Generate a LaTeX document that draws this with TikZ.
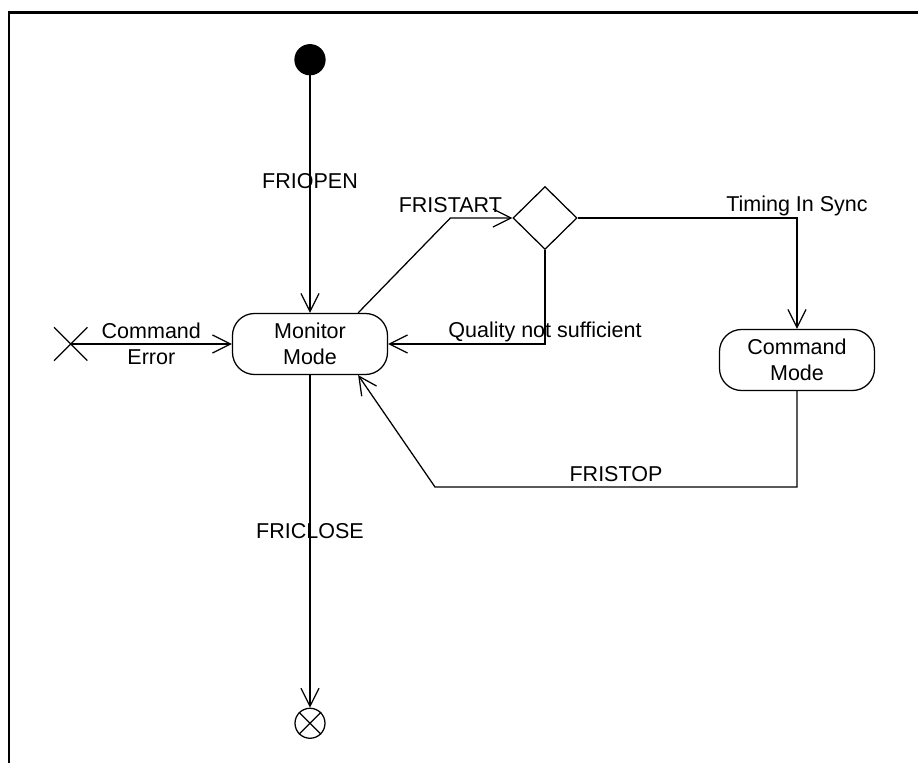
\documentclass[tikz,border=0pt]{standalone}
\usepackage{fontspec}
\setmainfont{Liberation Sans}
\usepackage{tikz}
\usetikzlibrary{shapes,arrows.meta,positioning}

\begin{document}
\begin{tikzpicture}[
    line width=0.9pt,
    font=\fontsize{15.3}{18.5}\selectfont,
    modenode/.style={draw, rounded corners=0.55cm, minimum width=3.875cm, minimum height=1.525cm, align=center, inner sep=2pt},
    pseudonode/.style={draw, circle, minimum size=0.75cm, inner sep=0pt},
    trans/.style={->, >={Straight Barb[length=0.45cm,width=0.45cm]}}
]
\useasboundingbox (0,0) rectangle (22.95,19.075);
\draw[line width=1.8pt] (0.225,0) |- (22.95,18.7625);

\node[modenode] (mon) at (7.75,10.475) {Monitor\\Mode};
\node[modenode] (cmd) at (19.925,10.075) {Command\\Mode};
\node[pseudonode, fill=black] (init) [above=5.9375cm of mon] {};
\node[pseudonode] (fin) [below=8.3125cm of mon] {};
\draw (fin.north west) -- (fin.south east) (fin.north east) -- (fin.south west);
\node[draw, cross out, minimum size=0.8cm, inner sep=0pt] (err) [left=3.6125cm of mon] {};
\node[draw, diamond, minimum width=1.6cm, minimum height=1.575cm, inner sep=0pt] (dec) at (13.625,13.625) {};
\coordinate (stopbend) at (10.875,6.9);

\draw[trans] (init) -- node[pos=0.446] {FRIOPEN} (mon);
\draw[trans] (mon) -- node[pos=0.468] {FRICLOSE} (fin);
\draw[trans] (err.center) -- node[midway, align=center] {Command\\Error} (mon.west);
\draw[trans] ([xshift=-0.75cm]mon.north east) -- node[pos=1, above] {FRISTART} ([xshift=-1.55cm]dec.west) -- (dec.west);
\draw[trans] (dec.east) -| node[pos=0.5, above, inner sep=1pt] {Timing In Sync} (cmd.north);
\draw[trans] (dec.south) |- node[pos=0.5, above, inner sep=1pt] {Quality not sufficient} (mon.east);
\draw[trans] (cmd.south) |- node[pos=0.75, above] {FRISTOP} (stopbend) -- ([xshift=-0.75cm]mon.south east);
\end{tikzpicture}
\end{document}
